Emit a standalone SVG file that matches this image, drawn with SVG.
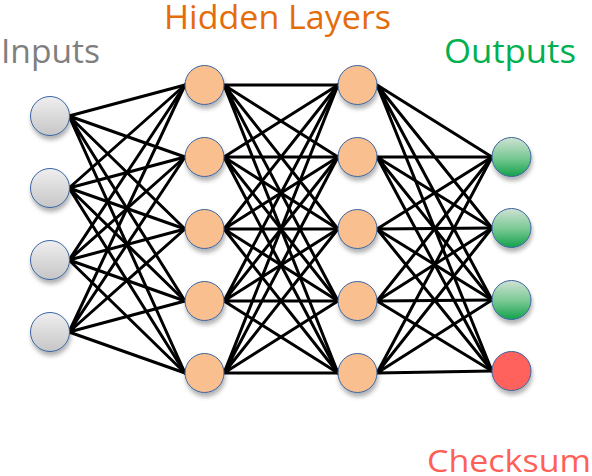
<svg xmlns="http://www.w3.org/2000/svg" width="592" height="476" viewBox="0 0 592 476">
<style>
.lbl{font-family:"Open Sans","Noto Sans","Liberation Sans",sans-serif;font-size:32px}
.edge{stroke:#000;stroke-width:3;fill:none;stroke-linecap:round}
.node{stroke:#3b64a0;stroke-width:1;filter:url(#sh)}
.in{fill:url(#gIn)}
.hid{fill:#f9bf8f}
.out{fill:url(#gOut)}
.chk{fill:#ff625c}
</style>
<defs>
<linearGradient id="gIn" x1="0" y1="0" x2="0" y2="1">
<stop offset="0" stop-color="#efefef"/>
<stop offset="1" stop-color="#c6c6c6"/>
</linearGradient>
<linearGradient id="gOut" x1="0" y1="0" x2="0" y2="1">
<stop offset="0" stop-color="#d0e2d3"/>
<stop offset="0.55" stop-color="#74c790"/>
<stop offset="1" stop-color="#12a24a"/>
</linearGradient>
<filter id="sh" x="-30%" y="-30%" width="170%" height="180%">
<feDropShadow dx="1" dy="4" stdDeviation="2.2" flood-color="#000" flood-opacity="0.3"/>
</filter>
</defs>
<rect width="592" height="476" fill="#fff"/>
<g id="labels">
<text class="lbl" x="1" y="63" fill="#7f7f7f" textLength="99" lengthAdjust="spacingAndGlyphs">Inputs</text>
<text class="lbl" x="164" y="29" fill="#e46c0a" textLength="227" lengthAdjust="spacingAndGlyphs">Hidden Layers</text>
<text class="lbl" x="444" y="63" fill="#00b050" textLength="132" lengthAdjust="spacingAndGlyphs">Outputs</text>
<text class="lbl" x="427" y="472" fill="#ff5f57" textLength="164" lengthAdjust="spacingAndGlyphs" style="font-size:31px">Checksum</text>
</g>
<g id="connectors" class="edge">
<path d="M69 116L185 85M69 116L185 157M69 116L185 229M69 116L185 301M69 116L185 373"/>
<path d="M69 188L185 85M69 188L185 157M69 188L185 229M69 188L185 301M69 188L185 373"/>
<path d="M69 260L185 85M69 260L185 157M69 260L185 229M69 260L185 301M69 260L185 373"/>
<path d="M69 332L185 85M69 332L185 157M69 332L185 229M69 332L185 301M69 332L185 373"/>
<path d="M224 85L338 85M224 85L338 157M224 85L338 229M224 85L338 301M224 85L338 373"/>
<path d="M224 157L338 85M224 157L338 157M224 157L338 229M224 157L338 301M224 157L338 373"/>
<path d="M224 229L338 85M224 229L338 157M224 229L338 229M224 229L338 301M224 229L338 373"/>
<path d="M224 301L338 85M224 301L338 157M224 301L338 229M224 301L338 301M224 301L338 373"/>
<path d="M224 373L338 85M224 373L338 157M224 373L338 229M224 373L338 301M224 373L338 373"/>
<path d="M377 85L492 157M377 85L492 228M377 85L492 300M377 85L492 371"/>
<path d="M377 157L492 157M377 157L492 228M377 157L492 300M377 157L492 371"/>
<path d="M377 229L492 157M377 229L492 228M377 229L492 300M377 229L492 371"/>
<path d="M377 301L492 157M377 301L492 228M377 301L492 300M377 301L492 371"/>
<path d="M377 373L492 157M377 373L492 228M377 373L492 300M377 373L492 371"/>
</g>
<g id="in1"><circle class="node in" cx="50" cy="116" r="19.5"/></g>
<g id="in2"><circle class="node in" cx="50" cy="188" r="19.5"/></g>
<g id="in3"><circle class="node in" cx="50" cy="260" r="19.5"/></g>
<g id="in4"><circle class="node in" cx="50" cy="332" r="19.5"/></g>
<g id="h1a"><circle class="node hid" cx="204.5" cy="85" r="19.5"/></g>
<g id="h1b"><circle class="node hid" cx="204.5" cy="157" r="19.5"/></g>
<g id="h1c"><circle class="node hid" cx="204.5" cy="229" r="19.5"/></g>
<g id="h1d"><circle class="node hid" cx="204.5" cy="301" r="19.5"/></g>
<g id="h1e"><circle class="node hid" cx="204.5" cy="373" r="19.5"/></g>
<g id="h2a"><circle class="node hid" cx="357.5" cy="85" r="19.5"/></g>
<g id="h2b"><circle class="node hid" cx="357.5" cy="157" r="19.5"/></g>
<g id="h2c"><circle class="node hid" cx="357.5" cy="229" r="19.5"/></g>
<g id="h2d"><circle class="node hid" cx="357.5" cy="301" r="19.5"/></g>
<g id="h2e"><circle class="node hid" cx="357.5" cy="373" r="19.5"/></g>
<g id="out1"><circle class="node out" cx="511.5" cy="157" r="19.5"/></g>
<g id="out2"><circle class="node out" cx="511.5" cy="228" r="19.5"/></g>
<g id="out3"><circle class="node out" cx="511.5" cy="300" r="19.5"/></g>
<g id="checksum"><circle class="node chk" cx="511.5" cy="371" r="19.5"/></g>
</svg>
